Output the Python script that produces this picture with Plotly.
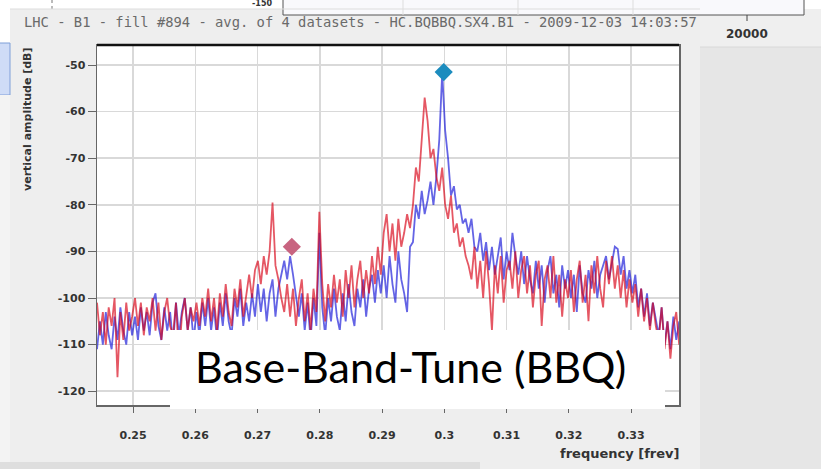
import numpy as np
import plotly.graph_objects as go

# ---------------- data ----------------
f_start = 0.2442
f_step = 0.00047
n_bins = 200

red_db = [
    -101, -108, -103, -110, -102, -106, -100, -117, -103, -109, -101, -107, -104,
    -100, -106, -101, -108, -102, -105, -100, -107, -101, -109, -103, -100, -106, -108, -101, -113, -104, -100, -107, -102, -105,
    -101, -106, -100, -104, -98, -105, -100, -107, -99, -104, -97, -103, -106, -98, -102, -96, -104, -99, -95, -100, -94,
    -92, -97, -91, -95, -90, -79.5, -93, -96, -100, -103, -97,
    -104, -98, -106, -100, -96, -105, -99, -107, -98, -103,
    -81.5, -97,
    -105, -97, -102, -95, -101, -96, -104, -94, -100, -93, -102, -96, -92, -100, -94, -99, -91, -97, -89, -95,
    -86, -82, -90, -84, -92, -83, -89, -86, -82, -85,
    -80, -72, -75, -66, -57,
    -62, -70, -68, -74, -77, -72,
    -80, -83, -78, -86, -84, -89, -87, -91,
    -93, -96, -89, -98, -92, -100, -90, -97, -107, -93, -99, -91, -101, -94,
    -92, -98, -90, -100, -94, -91, -99, -93, -102, -95, -92, -106, -96, -93, -100, -91, -101, -95, -104, -96,
    -100, -94, -103, -96, -92, -101, -95, -105, -93, -99, -91, -98, -102, -92, -97,
    -91, -98, -93, -100, -94, -102, -96,
    -101, -97, -104, -98, -105, -100, -107, -101,
    -106, -109, -102, -111, -105, -113, -106, -103, -110,
]

blue_db = [
    -111, -105, -110, -103, -108, -111, -104, -109, -102, -107, -110, -103, -108,
    -104, -109, -102, -107, -103, -108, -101, -99, -106, -109, -102, -107, -103, -110, -101, -108, -103, -100, -107, -102, -109,
    -103, -108, -101, -106, -100, -107, -102, -109, -101, -106, -99, -105, -108, -100, -104, -98, -106, -101, -105, -99, -104,
    -97, -103, -98, -105, -99, -96, -104, -98, -95, -92, -96,
    -91, -95, -99, -104, -99, -107, -101, -109, -100, -106,
    -86, -102,
    -108, -100, -105, -98, -104, -107, -99, -105, -97, -103, -106, -98, -102, -96, -104, -98, -95, -101, -94, -99,
    -93, -100, -91, -97, -101, -90, -96, -99, -103, -89,
    -88, -80, -83, -77, -82,
    -79, -75, -80, -74, -66, -51.5,
    -64, -70, -78, -76, -81, -80, -84, -83,
    -86, -83, -89, -90, -86, -92, -88, -94, -89, -95, -91, -87, -96, -90,
    -94, -86, -91, -95, -90, -97, -91, -96, -99, -92, -98, -93, -101, -94, -91, -99, -95, -102, -93, -98,
    -94, -100, -95, -103, -93, -99, -101, -94, -98, -92, -100, -95, -93, -91, -96,
    -92, -89, -89.5, -95, -91, -98, -94,
    -99, -95, -102, -98, -104, -99, -106, -101,
    -105, -108, -102, -110, -105, -111, -104, -109, -105,
]

peak_blue = (0.2999, -51.5)
peak_red = (0.2755, -89.0)

x_ticks = [0.25, 0.26, 0.27, 0.28, 0.29, 0.30, 0.31, 0.32, 0.33]
x_ticktext = ["0.25", "0.26", "0.27", "0.28", "0.29", "0.3", "0.31", "0.32", "0.33"]
y_ticks = [-50, -60, -70, -80, -90, -100, -110, -120]
y_ticktext = ["-50", "-60", "-70", "-80", "-90", "-100", "-110", "-120"]

freq = f_start + f_step * np.arange(n_bins)

# ---------------- geometry helpers ----------------
W, H = 821, 469
L, R, T, B = 97, 679, 45, 405
pw, ph = R - L, B - T


def px(x):
    return (x - L) / pw


def py(y):
    return (B - y) / ph


fig = go.Figure()
fig.add_trace(go.Scatter(x=freq, y=blue_db, mode="lines",
                         line=dict(color="rgba(20,20,215,0.66)", width=1.8),
                         showlegend=False, hoverinfo="skip"))
fig.add_trace(go.Scatter(x=freq, y=red_db, mode="lines",
                         line=dict(color="rgba(215,0,20,0.66)", width=1.8),
                         showlegend=False, hoverinfo="skip"))
fig.add_trace(go.Scatter(x=[peak_red[0]], y=[peak_red[1]], mode="markers",
                         marker=dict(symbol="diamond", size=14, color="rgb(200,100,128)"),
                         showlegend=False, hoverinfo="skip"))
fig.add_trace(go.Scatter(x=[peak_blue[0]], y=[peak_blue[1]], mode="markers",
                         marker=dict(symbol="diamond", size=14, color="rgb(28,140,190)"),
                         showlegend=False, hoverinfo="skip"))

tickfont = dict(family="DejaVu Sans", size=11, color="#333333", weight="bold")

fig.update_xaxes(range=[0.2442, 0.3377], tickvals=x_ticks, ticktext=x_ticktext,
                 showgrid=True, gridcolor="#d9d9d9", gridwidth=1.5,
                 ticks="outside", ticklen=6, tickcolor="#666666", tickwidth=1,
                 ticklabelstandoff=13,
                 showline=True, linecolor="#666666", linewidth=1.5, mirror=True,
                 zeroline=False, tickfont=tickfont)
fig.update_yaxes(range=[-122.96, -45.7], tickvals=y_ticks, ticktext=y_ticktext,
                 showgrid=True, gridcolor="#d9d9d9", gridwidth=1.5,
                 ticks="outside", ticklen=8, tickcolor="#666666", tickwidth=1,
                 showline=True, linecolor="#666666", linewidth=1.5, mirror=True,
                 zeroline=False, tickfont=tickfont)

shapes = []
# surrounding slide areas
shapes.append(dict(type="rect", xref="paper", yref="paper", x0=px(700), x1=px(825), y0=py(-2), y1=py(47),
                   fillcolor="#efefef", line=dict(width=0), layer="below"))
shapes.append(dict(type="rect", xref="paper", yref="paper", x0=px(700), x1=px(825), y0=py(47), y1=py(472),
                   fillcolor="#e6e6e6", line=dict(width=0), layer="below"))
shapes.append(dict(type="line", xref="paper", yref="paper", x0=px(700), x1=px(825), y0=py(47), y1=py(47),
                   line=dict(color="#d8d8d8", width=1), layer="below"))
# top white strip (other chart behind)
shapes.append(dict(type="rect", xref="paper", yref="paper", x0=px(-2), x1=px(825), y0=py(-2), y1=py(9),
                   fillcolor="#ffffff", line=dict(width=0), layer="below"))
shapes.append(dict(type="rect", xref="paper", yref="paper", x0=px(283), x1=px(804), y0=py(-2), y1=py(15),
                   fillcolor="#f9f9fc", line=dict(color="#555555", width=1), layer="below"))
for gx in [403, 518, 633]:
    shapes.append(dict(type="line", xref="paper", yref="paper", x0=px(gx), x1=px(gx), y0=py(0), y1=py(15),
                       line=dict(color="#dddddd", width=1), layer="below"))
shapes.append(dict(type="line", xref="paper", yref="paper", x0=px(747), x1=px(747), y0=py(15), y1=py(21),
                   line=dict(color="#444444", width=1), layer="below"))
shapes.append(dict(type="line", xref="paper", yref="paper", x0=px(52), x1=px(52), y0=py(0), y1=py(9),
                   line=dict(color="#777777", width=1, dash="dot"), layer="below"))
# left strip
shapes.append(dict(type="rect", xref="paper", yref="paper", x0=px(-2), x1=px(10), y0=py(9), y1=py(43),
                   fillcolor="#ffffff", line=dict(width=0), layer="below"))
shapes.append(dict(type="rect", xref="paper", yref="paper", x0=px(-2), x1=px(10), y0=py(43), y1=py(95),
                   fillcolor="#cfdcf7", line=dict(color="#7f9fd8", width=1), layer="below"))
shapes.append(dict(type="rect", xref="paper", yref="paper", x0=px(-2), x1=px(10), y0=py(95), y1=py(472),
                   fillcolor="#f3f3f3", line=dict(width=0), layer="below"))
# panel border
shapes.append(dict(type="line", xref="paper", yref="paper", x0=px(10), x1=px(700), y0=py(9), y1=py(9),
                   line=dict(color="#dddddd", width=1), layer="below"))
# bottom band
shapes.append(dict(type="rect", xref="paper", yref="paper", x0=px(-2), x1=px(480), y0=py(462), y1=py(472),
                   fillcolor="#dedede", line=dict(width=0), layer="below"))
# thick top border of plot
shapes.append(dict(type="line", xref="paper", yref="paper", x0=0, x1=1, y0=1, y1=1,
                   line=dict(color="#111111", width=2.5), layer="above"))
# white caption box
shapes.append(dict(type="rect", xref="paper", yref="paper", x0=px(170), x1=px(665), y0=py(409), y1=py(330),
                   fillcolor="#ffffff", line=dict(width=0), layer="above"))

annotations = []
annotations.append(dict(text="LHC - B1 - fill #894 - avg. of 4 datasets - HC.BQBBQ.SX4.B1 - 2009-12-03 14:03:57",
                        xref="paper", yref="paper", x=px(22), y=py(22), xanchor="left", yanchor="middle",
                        showarrow=False, font=dict(family="DejaVu Sans Mono", size=13.8, color="#6a6a6a")))
annotations.append(dict(text="vertical amplitude [dB]", xref="paper", yref="paper", x=px(27), y=py(119),
                        textangle=-90, xanchor="center", yanchor="middle", showarrow=False,
                        font=dict(family="DejaVu Sans", size=11, color="#333333", weight="bold")))
annotations.append(dict(text="frequency [frev]", xref="paper", yref="paper", x=px(681), y=py(453),
                        xanchor="right", yanchor="middle", showarrow=False,
                        font=dict(family="DejaVu Sans", size=13, color="#333333", weight="bold")))
annotations.append(dict(text="Base-Band-Tune (BBQ)", xref="paper", yref="paper", x=px(410), y=py(366),
                        xanchor="center", yanchor="middle", showarrow=False,
                        font=dict(family="Lato", size=43, color="#000000")))
annotations.append(dict(text="20000", xref="paper", yref="paper", x=px(747), y=py(34),
                        xanchor="center", yanchor="middle", showarrow=False,
                        font=dict(family="DejaVu Sans", size=12, color="#333333", weight="bold")))
annotations.append(dict(text="-150", xref="paper", yref="paper", x=px(274), y=py(4),
                        xanchor="right", yanchor="middle", showarrow=False,
                        font=dict(family="DejaVu Sans", size=8, color="#333333", weight="bold")))

fig.update_layout(width=W, height=H, margin=dict(l=L, r=W - R, t=T, b=H - B),
                  paper_bgcolor="#eeeeee", plot_bgcolor="#ffffff",
                  shapes=shapes, annotations=annotations, showlegend=False)

fig.write_html("out.html", config={"displayModeBar": False, "staticPlot": True},
               post_script="document.body.style.margin='0';document.body.style.overflow='hidden';")
